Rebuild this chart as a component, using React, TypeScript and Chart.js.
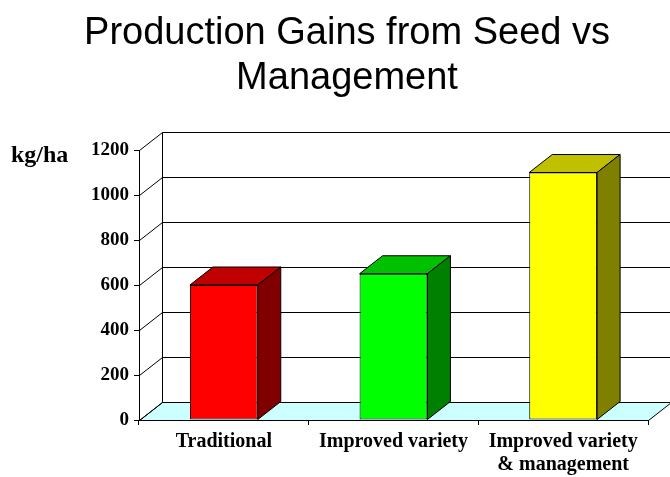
import React, { useEffect, useRef } from 'react';
import { Chart, registerables } from 'chart.js';

Chart.register(...registerables);

const categories: (string | string[])[] = [
  'Traditional',
  'Improved variety',
  ['Improved variety', '& management'],
];
const yields = [600, 650, 1100];
const frontColors = ['#FF0000', '#00FF00', '#FFFF00'];
const sideColors = ['#800000', '#008000', '#808000'];
const topColors = ['#C00000', '#00C000', '#C0C000'];
const yMin = 0;
const yMax = 1200;
const yStep = 200;
const titleLines = ['Production Gains from Seed vs', 'Management'];
const unitLabel = 'kg/ha';

const DX = 23;
const DY = 18;

const threeD = {
  id: 'threeD',
  beforeDraw(chart: any) {
    const { ctx, chartArea, scales } = chart;
    const y = scales.y;
    const L = Math.round(chartArea.left) + 0.5;
    const R = Math.round(chartArea.right) + 0.5;
    const B = Math.round(y.getPixelForValue(yMin)) + 0.5;
    const T = Math.round(y.getPixelForValue(yMax)) + 0.5;
    ctx.save();
    ctx.lineWidth = 1;
    ctx.strokeStyle = '#000';
    // floor
    ctx.beginPath();
    ctx.moveTo(L, B);
    ctx.lineTo(R, B);
    ctx.lineTo(R + DX, B - DY);
    ctx.lineTo(L + DX, B - DY);
    ctx.closePath();
    ctx.fillStyle = '#CCFFFF';
    ctx.fill();
    ctx.stroke();
    // gridlines on back wall and left wall
    y.ticks.forEach((t: any) => {
      const py = Math.round(y.getPixelForValue(t.value)) + 0.5;
      ctx.beginPath();
      ctx.moveTo(L + DX, py - DY);
      ctx.lineTo(R + DX + 60, py - DY);
      ctx.stroke();
      ctx.beginPath();
      ctx.moveTo(L, py);
      ctx.lineTo(L + DX, py - DY);
      ctx.stroke();
    });
    // back wall left edge
    ctx.beginPath();
    ctx.moveTo(L + DX, B - DY);
    ctx.lineTo(L + DX, T - DY);
    ctx.stroke();
    ctx.restore();
  },
  afterDatasetsDraw(chart: any) {
    const { ctx } = chart;
    const meta = chart.getDatasetMeta(0);
    ctx.save();
    ctx.lineWidth = 1;
    ctx.strokeStyle = '#000';
    ctx.lineJoin = 'miter';
    meta.data.forEach((bar: any, i: number) => {
      const { x, y, width, base } = bar.getProps(['x', 'y', 'width', 'base'], true);
      const l = x - width / 2;
      const r = x + width / 2;
      // top
      ctx.beginPath();
      ctx.moveTo(l, y);
      ctx.lineTo(r, y);
      ctx.lineTo(r + DX, y - DY);
      ctx.lineTo(l + DX, y - DY);
      ctx.closePath();
      ctx.fillStyle = topColors[i];
      ctx.fill();
      ctx.stroke();
      // side
      ctx.beginPath();
      ctx.moveTo(r, y);
      ctx.lineTo(r + DX, y - DY);
      ctx.lineTo(r + DX, base - DY);
      ctx.lineTo(r, base);
      ctx.closePath();
      ctx.fillStyle = sideColors[i];
      ctx.fill();
      ctx.stroke();
    });
    ctx.restore();
  },
  afterDraw(chart: any) {
    const { ctx } = chart;
    ctx.save();
    ctx.font = 'bold 24px "Liberation Serif", "Times New Roman", serif';
    ctx.fillStyle = '#000';
    ctx.textBaseline = 'alphabetic';
    ctx.textAlign = 'left';
    ctx.fillText(unitLabel, 11, 162);
    ctx.restore();
  },
};

export default function App() {
  const ref = useRef<HTMLCanvasElement | null>(null);

  useEffect(() => {
    if (!ref.current) return;
    const chart = new Chart(ref.current, {
      type: 'bar',
      data: {
        labels: categories as any,
        datasets: [
          {
            data: yields,
            backgroundColor: frontColors,
            borderColor: '#000',
            borderWidth: 1,
            borderSkipped: false,
            barPercentage: 0.4,
            categoryPercentage: 1,
          },
        ],
      },
      options: {
        responsive: false,
        animation: false,
        devicePixelRatio: 1,
        layout: { padding: { left: 46, right: 22, top: 0, bottom: 0 } },
        plugins: {
          legend: { display: false },
          tooltip: { enabled: false },
          title: {
            display: true,
            text: titleLines,
            color: '#000',
            font: {
              family: '"Liberation Sans", Arial, sans-serif',
              size: 38,
              weight: 'normal',
              lineHeight: 45 / 38,
            },
            padding: { top: 11, bottom: 49 },
          },
        },
        scales: {
          x: {
            grid: {
              display: true,
              drawOnChartArea: false,
              drawTicks: true,
              tickLength: 5,
              color: '#000',
              offset: true,
            },
            border: { display: true, color: '#000', width: 1 },
            ticks: {
              color: '#000',
              font: { family: '"Liberation Serif", "Times New Roman", serif', size: 20, weight: 'bold', lineHeight: 1.15 },
              padding: 5,
              maxRotation: 0,
              autoSkip: false,
            },
            afterFit: (s: any) => {
              s.height = 57;
            },
          },
          y: {
            min: yMin,
            max: yMax,
            grid: {
              display: true,
              drawOnChartArea: false,
              drawTicks: true,
              tickLength: 5,
              color: '#000',
            },
            border: { display: true, color: '#000', width: 1 },
            ticks: {
              stepSize: yStep,
              color: '#000',
              font: { family: '"Liberation Serif", "Times New Roman", serif', size: 19, weight: 'bold' },
              padding: 5,
              callback: (v: any) => String(v),
            },
            afterFit: (s: any) => {
              s.width = 93;
            },
          },
        },
      },
      plugins: [threeD],
    });
    return () => chart.destroy();
  }, []);

  return (
    <div style={{ position: 'absolute', left: 0, top: 0, width: 670, height: 477, background: '#fff' }}>
      <canvas ref={ref} width={670} height={477} />
    </div>
  );
}
